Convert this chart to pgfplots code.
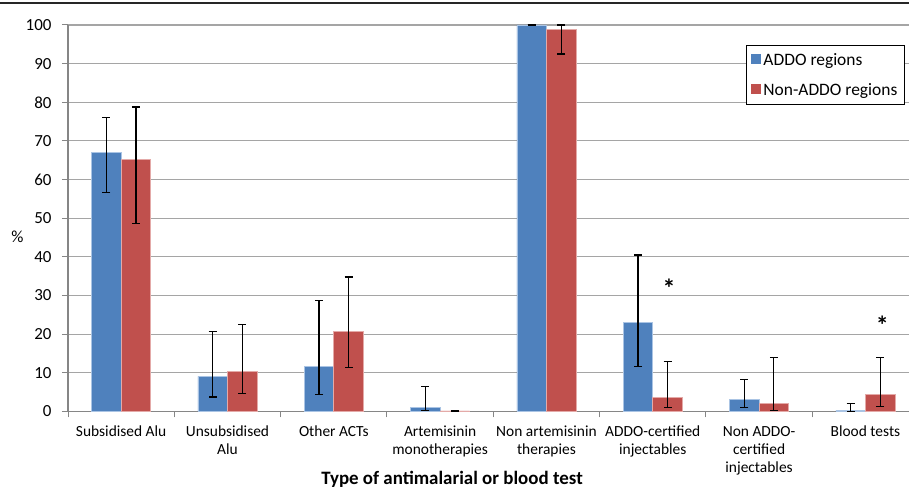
\documentclass[border=0pt]{standalone}
\usepackage{pgfplots}
\pgfplotsset{compat=1.18}
\usepackage{pgfplotstable}
\usepackage{fontspec}
\setmainfont{Carlito}
\definecolor{barblue}{RGB}{79,129,189}
\definecolor{barred}{RGB}{192,80,77}
\definecolor{edgeblue}{RGB}{170,196,228}
\definecolor{edgered}{RGB}{228,170,168}
\definecolor{gridgray}{RGB}{165,165,165}
\definecolor{axisgray}{RGB}{134,134,134}
\pgfplotstableread{
x y ep em
0 67.0 9.1 10.4
1 9.1 11.6 5.35
2 11.7 17.0 7.3
3 1.1 5.4 0.8
4 100 0 0
5 23.1 17.4 11.5
6 3.15 5.05 2.05
7 0.3 1.7 0.3
}\addo
\pgfplotstableread{
x y ep em
0 65.3 13.5 16.6
1 10.4 12.1 5.8
2 20.7 14.1 9.4
3 0.15 0 0
4 98.9 1.1 6.4
5 3.75 9.15 2.65
6 2.1 11.8 1.9
7 4.45 9.45 3.1
}\nonaddo
\begin{document}
\begin{tikzpicture}
\path[use as bounding box] (0,0) rectangle (909bp,488bp);
\clip (0,0) rectangle (909bp,488bp);
\draw[line width=1.6bp, black!85] (0,485bp) -- (909bp,485bp);
\begin{axis}[
  at={(68bp,76.5bp)}, anchor=south west,
  scale only axis, width=841bp, height=386.5bp,
  xmin=-0.5, xmax=7.41, ymin=0, ymax=100,
  ybar=0pt, bar width=29.5bp,
  axis lines*=left,
  axis line style={draw=axisgray, line width=1.1bp},
  ytick={0,10,...,100},
  ymajorgrids, grid style={draw=gridgray, line width=1.1bp},
  tick align=outside, major tick length=6bp,
  tick style={draw=axisgray, line width=1bp},
  /pgf/number format/assume math mode=true,
  ticklabel style={font=\fontsize{15.5}{18.3}\selectfont},
  yticklabel style={font=\fontsize{17}{18}\selectfont, xshift=-7bp},
  xtick={0,...,7},
  xticklabels={Subsidised Alu, {Unsubsidised\\Alu}, Other ACTs, {Artemisinin\\monotherapies}, {Non artemisinin\\therapies}, {ADDO-certified\\injectables}, {Non ADDO-\\certified\\injectables}, Blood tests},
  xticklabel style={align=center, anchor=north, yshift=-5bp},
  xtick style={draw=none},
  extra x ticks={-0.5,0.5,...,6.5},
  extra x tick labels={},
  extra x tick style={xtick style={draw=axisgray}, grid=none},
  ylabel={\%},
  ylabel style={at={(rel axis cs:-0.060,0.451)}, rotate=-90, anchor=center, font=\fontsize{17}{18}\selectfont},
  xlabel={Type of antimalarial or blood test},
  xlabel style={at={(rel axis cs:0.4566,-0.189)}, anchor=base, font=\bfseries\fontsize{19}{22}\selectfont},
  legend style={at={(rel axis cs:0.995,0.948)}, anchor=north east, draw=black, line width=0.9bp,
    font=\fontsize{17.5}{20}\selectfont, inner xsep=5bp, inner ysep=6bp, row sep=12bp,
    cells={anchor=west}},
  every axis plot post/.append style={legend image code/.code={\fill[##1, draw=none] (0bp,-4bp) rectangle (10bp,6bp);}},
  error bars/y dir=both, error bars/y explicit,
  error bars/error bar style={black, line width=1.2bp},
  error bars/error mark options={black, mark size=4bp, line width=1.2bp, rotate=90},
]
\addplot[fill=barblue, draw=edgeblue, line width=0.8bp] table[x=x, y=y, y error plus=ep, y error minus=em] {\addo};
\addlegendentry{ADDO regions}
\addplot[fill=barred, draw=edgered, line width=0.8bp] table[x=x, y=y, y error plus=ep, y error minus=em] {\nonaddo};
\addlegendentry{Non-ADDO regions}
\node[font=\bfseries\fontsize{26}{26}\selectfont] at (axis cs:5.154,31.8) {*};
\node[font=\bfseries\fontsize{26}{26}\selectfont] at (axis cs:7.158,22.2) {*};
\end{axis}
\end{tikzpicture}
\end{document}
